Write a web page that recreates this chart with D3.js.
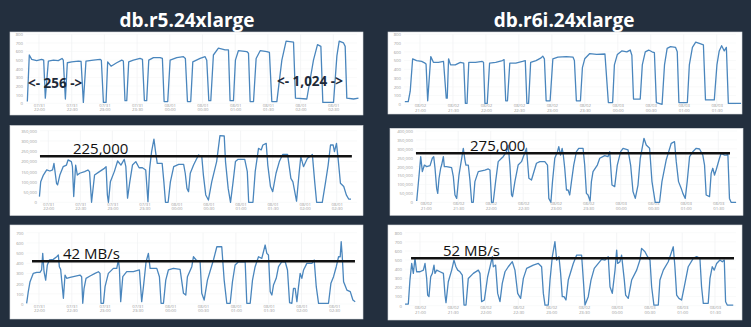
<!DOCTYPE html>
<html><head><meta charset="utf-8">
<script src="https://cdn.jsdelivr.net/npm/d3@7"></script>
<style>html,body{margin:0;padding:0;background:#232f3e;overflow:hidden}svg{display:block}</style>
</head><body><svg id="c" width="751" height="327"></svg>
<script>
// ---------- DATA (minutes after first x tick, value) ----------
const titles = ["db.r5.24xlarge", "db.r6i.24xlarge"];
const leftStart = new Date(2023, 6, 31, 22, 0);
const rightStart = new Date(2023, 7, 2, 21, 0);

const ticks800 = [0,100,200,300,400,500,600,700,800];
const ticks700 = [0,100,200,300,400,500,600,700];
const ticks350k = [0,50000,100000,150000,200000,250000,300000,350000];
const ticks400k = [0,50000,100000,150000,200000,250000,300000,350000,400000];

const r5Top = [[-10.7,20],[-8.9,560],[-6.7,510],[-2.1,495],[2.4,510],[4.3,500],[5.8,60],[8.6,490],[13.2,500],[17.7,495],[21.1,520],[22.3,500],[24.2,50],[26.0,470],[30.0,480],[36.1,490],[38.6,485],[40.7,10],[43.1,490],[49.9,500],[56.0,510],[57.2,500],[59.1,10],[61.5,10],[63.0,480],[66.1,430],[71.3,470],[75.9,500],[77.4,490],[78.9,30],[80.5,30],[82.3,480],[86.6,500],[92.7,520],[94.9,510],[96.7,30],[98.8,30],[100.7,500],[105.0,530],[111.1,530],[113.2,520],[114.8,20],[118.1,20],[120.3,500],[126.4,530],[132.5,540],[134.3,520],[136.2,20],[139.2,20],[141.1,480],[147.8,520],[152.4,540],[153.9,500],[155.8,30],[157.6,30],[160.0,560],[164.6,640],[170.7,620],[173.8,620],[175.3,30],[178.4,30],[180.2,500],[182.9,610],[190.6,600],[192.2,580],[193.7,20],[196.8,20],[199.2,520],[202.9,610],[209.0,600],[211.4,590],[213.6,20],[218.2,20],[222.8,500],[226.7,720],[233.5,710],[235.3,60],[245.7,50],[251.8,500],[255.5,680],[258.6,660],[260.4,10],[270.2,10],[273.3,550],[275.4,720],[279.4,700],[280.9,660],[282.4,60],[288.6,50],[293.1,60]];

const r6iTop = [[-13.8,30],[-10.7,30],[-8.9,150],[-6.7,520],[-3.1,500],[1.5,490],[4.6,470],[5.5,460],[7.0,40],[9.8,545],[12.2,480],[16.8,480],[21.4,490],[23.9,70],[24.8,70],[26.0,520],[27.8,450],[32.1,450],[36.7,480],[39.8,470],[41.3,10],[42.8,10],[44.4,480],[50.5,480],[56.6,490],[57.8,480],[59.1,10],[61.2,10],[63.3,470],[68.9,480],[75.0,500],[76.5,510],[78.0,40],[79.6,40],[81.7,470],[87.2,470],[93.3,490],[95.8,500],[97.3,10],[98.8,10],[100.7,480],[105.6,500],[110.2,530],[111.7,550],[113.2,520],[114.8,40],[118.4,40],[120.9,520],[125.5,540],[133.1,545],[139.2,540],[140.5,500],[142.3,40],[146.0,40],[147.8,420],[149.9,520],[154.5,580],[160.7,570],[168.3,575],[171.4,20],[175.3,20],[176.9,450],[179.6,570],[183.6,610],[188.2,600],[191.3,620],[192.8,560],[194.3,60],[200.4,60],[202.3,450],[205.0,600],[208.1,620],[211.1,600],[213.3,590],[215.1,20],[220.3,0],[222.5,450],[224.9,640],[228.0,660],[232.6,650],[234.1,600],[235.6,20],[243.3,20],[245.1,450],[247.9,650],[250.9,710],[255.5,690],[257.9,680],[259.8,50],[267.8,50],[270.2,450],[272.3,610],[274.5,670],[276.9,610],[278.8,650],[280.6,10],[292.2,10]];

const r5Mid = [[-8.3,28000],[-7.1,101000],[-4.6,133000],[-1.5,158000],[1.5,153000],[4.0,158000],[5.3,190000],[7.7,93000],[8.7,85000],[10.8,133000],[13.9,174000],[17.0,182000],[18.5,207000],[21.6,199000],[22.6,174000],[23.8,28000],[25.6,182000],[27.2,133000],[29.4,142000],[34.0,150000],[37.1,158000],[38.6,150000],[40.5,0],[43.3,133000],[47.9,150000],[52.5,166000],[54.1,174000],[55.3,36000],[56.3,0],[58.1,100000],[61.8,150000],[64.9,202000],[68.0,182000],[71.1,210000],[72.6,174000],[74.2,20000],[76.3,100000],[78.8,182000],[81.9,199000],[85.0,169000],[88.1,169000],[91.2,158000],[93.3,3000],[94.9,166000],[96.7,248000],[98.9,309000],[100.4,248000],[102.0,190000],[106.6,190000],[108.2,100000],[109.7,0],[112.2,0],[114.3,100000],[117.4,174000],[122.1,185000],[126.7,185000],[128.2,142000],[129.8,68000],[131.3,52000],[132.9,142000],[136.0,182000],[140.6,231000],[143.7,223000],[145.2,133000],[147.4,36000],[149.9,11000],[153.0,100000],[157.6,199000],[160.7,326000],[164.7,324000],[165.9,199000],[168.4,68000],[170.6,0],[173.0,100000],[175.2,199000],[177.7,210000],[183.9,210000],[186.3,150000],[187.6,0],[191.6,0],[193.7,150000],[196.8,264000],[199.3,256000],[200.9,280000],[204.0,288000],[205.5,182000],[208.0,77000],[210.1,52000],[213.2,142000],[216.3,199000],[219.4,234000],[224.0,234000],[227.1,117000],[229.0,100000],[232.4,6000],[234.8,142000],[236.4,223000],[238.9,174000],[242.6,215000],[245.7,226000],[247.2,234000],[249.4,100000],[251.2,0],[256.5,0],[259.6,100000],[262.0,182000],[264.2,280000],[266.7,280000],[267.9,248000],[269.8,288000],[271.3,215000],[273.5,93000],[276.6,77000],[279.0,36000],[281.2,16000],[283.4,16000]];

const r6iMid = [[-8.3,7000],[-6.1,153000],[-4.6,256000],[-3.1,172000],[-1.2,209000],[0.9,200000],[4.0,206000],[6.1,247000],[7.4,256000],[8.6,191000],[10.1,78000],[11.1,50000],[12.3,135000],[13.8,191000],[14.7,209000],[16.3,256000],[17.2,200000],[19.3,200000],[23.9,194000],[25.5,144000],[27.0,41000],[28.6,22000],[30.7,153000],[33.2,247000],[34.7,303000],[36.2,237000],[37.1,209000],[39.3,209000],[40.8,125000],[42.4,0],[43.9,0],[45.4,116000],[48.5,172000],[54.6,181000],[57.7,187000],[59.3,181000],[60.8,0],[62.3,0],[64.5,116000],[66.9,228000],[70.0,247000],[71.5,256000],[74.6,284000],[76.1,321000],[77.7,209000],[79.2,41000],[80.1,32000],[82.3,116000],[85.3,209000],[88.4,228000],[93.0,303000],[95.2,135000],[97.6,125000],[102.2,219000],[105.3,228000],[109.9,228000],[112.4,209000],[113.6,22000],[115.5,0],[117.0,116000],[119.1,247000],[121.6,284000],[122.8,312000],[124.4,265000],[125.9,303000],[126.8,275000],[128.3,191000],[129.9,69000],[131.4,69000],[132.9,41000],[134.5,116000],[136.6,209000],[139.1,284000],[141.2,303000],[145.2,303000],[146.7,209000],[148.3,50000],[149.8,41000],[151.7,7000],[152.9,116000],[154.4,172000],[158.4,209000],[160.6,247000],[165.2,262000],[168.2,256000],[169.8,284000],[171.9,97000],[174.4,88000],[176.8,209000],[179.9,284000],[182.1,303000],[186.7,294000],[189.1,209000],[191.3,60000],[193.4,22000],[195.9,97000],[198.0,247000],[201.4,359000],[203.5,321000],[206.6,303000],[208.8,116000],[211.8,0],[215.8,0],[218.0,116000],[221.9,237000],[226.6,331000],[229.6,340000],[231.2,228000],[233.3,116000],[235.8,78000],[237.3,50000],[239.5,22000],[241.3,116000],[243.5,256000],[246.5,284000],[249.6,303000],[252.7,299000],[255.7,265000],[257.3,209000],[258.8,41000],[261.9,32000],[263.4,162000],[264.9,191000],[266.5,153000],[268.0,181000],[271.1,247000],[272.6,275000],[275.7,265000],[277.8,265000],[278.8,275000],[280.3,22000],[281.8,0],[286.4,0]];

const r5Bot = [[-11.3,7],[-9.8,121],[-8.2,219],[-5.2,301],[-2.1,311],[0.9,311],[2.4,334],[3.4,497],[4.6,317],[6.1,235],[7.6,383],[9.5,432],[13.1,438],[16.2,464],[17.7,481],[18.6,366],[19.8,340],[21.0,203],[22.3,56],[23.8,284],[25.3,252],[28.4,262],[37.5,284],[39.0,268],[40.0,7],[41.2,154],[43.0,252],[46.7,275],[51.2,301],[54.3,317],[55.8,301],[56.7,7],[58.9,7],[60.4,170],[63.4,301],[68.0,350],[71.1,350],[72.6,432],[73.5,350],[74.7,23],[76.6,268],[80.2,317],[86.3,317],[91.8,334],[93.9,23],[95.5,170],[97.9,415],[100.0,497],[101.6,350],[107.7,350],[110.1,268],[111.6,7],[113.8,7],[115.9,235],[118.3,334],[122.9,350],[129.0,340],[132.1,105],[134.2,88],[135.7,268],[139.7,366],[141.2,464],[143.7,432],[147.3,415],[148.8,105],[151.0,39],[154.0,235],[159.5,432],[162.6,562],[167.1,562],[169.3,235],[171.7,7],[174.8,7],[176.9,219],[179.3,383],[182.4,415],[188.5,415],[190.0,7],[193.1,7],[195.2,235],[197.6,366],[200.7,464],[203.7,448],[206.8,579],[208.3,497],[209.8,481],[211.4,121],[212.9,88],[214.4,186],[216.9,252],[219.0,366],[222.0,415],[225.1,415],[227.2,334],[229.1,13],[231.2,7],[232.7,154],[234.2,154],[235.8,23],[237.3,170],[238.8,301],[240.3,252],[241.9,334],[244.9,399],[249.5,399],[251.6,432],[253.5,170],[255.6,7],[264.7,7],[266.9,203],[269.3,268],[271.8,366],[273.9,464],[275.4,464],[276.3,611],[277.2,481],[278.5,219],[281.5,137],[284.6,121],[287.0,39],[289.1,23]];

const r6iBot = [[-13.7,18],[-10.7,18],[-9.2,281],[-7.6,463],[-6.1,354],[-4.6,518],[-3.1,372],[0,372],[3.1,390],[4.6,463],[6.1,299],[7.0,117],[8.2,99],[9.8,317],[11.3,354],[12.8,445],[13.7,354],[15.3,390],[18.3,372],[21.4,354],[22.9,117],[23.8,33],[25.9,263],[29.0,390],[31.1,500],[32.9,427],[34.5,390],[36.6,372],[38.7,336],[40.3,7],[42.1,7],[44.2,299],[48.8,354],[53.4,390],[54.9,354],[56.4,44],[58.9,62],[61.9,317],[64.1,427],[66.2,537],[67.1,427],[69.2,445],[71.1,135],[73.2,44],[75.3,245],[77.8,372],[80.8,427],[84.5,482],[86.9,390],[89.4,135],[92.1,80],[94.6,299],[97.6,409],[103.7,445],[108.3,463],[111.3,427],[112.9,135],[114.4,7],[117.4,7],[119.0,281],[121.1,537],[123.5,701],[125.1,500],[127.2,537],[128.7,354],[130.2,99],[131.8,99],[133.6,62],[135.7,281],[140.3,463],[143.4,555],[147.9,555],[149.5,281],[151.0,7],[154.0,99],[156.5,281],[159.5,409],[163.2,463],[166.2,507],[169.3,500],[172.3,537],[173.9,208],[176.0,135],[178.5,390],[180.0,610],[180.9,463],[183.0,482],[184.5,555],[187.0,281],[188.2,117],[190.6,80],[193.7,281],[198.3,390],[201.3,500],[202.8,628],[205.9,591],[208.3,537],[210.5,500],[212.0,208],[214.1,7],[218.1,7],[219.6,281],[222.7,390],[227.2,482],[230.3,591],[231.8,646],[233.3,427],[234.9,117],[237.0,80],[239.4,62],[241.9,208],[245.5,427],[250.1,518],[253.2,537],[256.2,518],[257.7,208],[259.3,26],[263.8,26],[265.4,299],[267.5,427],[269.3,390],[271.5,463],[274.5,500],[276.7,482],[278.5,500],[279.7,44],[281.2,7],[286.7,7]];

// reference lines: [startMinute, endMinute, value], label
const refMidLeft = [-7.8, 284.2, 225000];
const refMidRight = [-9.0, 280.8, 275000];
const refBotLeft = [-6.4, 288.9, 420];
const refBotRight = [-8.2, 287.4, 520];
const refLabels = ["225,000", "275,000", "42 MB/s", "52 MB/s"];
const rangeLabels = ["<- 256 ->", "<- 1,024 ->"];

// ---------- DRAW ----------
const BG = "#232f3e", LINE = "#4a86bd";
const svg = d3.select("#c");
svg.append("rect").attr("width", 751).attr("height", 327).attr("fill", BG);

svg.append("text").attr("x", 187).attr("y", 27).attr("text-anchor", "middle")
  .attr("font-family", "Open Sans, sans-serif").attr("font-weight", 700).attr("font-size", 19)
  .attr("fill", "#fff").text(titles[0]);
svg.append("text").attr("x", 564).attr("y", 27).attr("text-anchor", "middle")
  .attr("font-family", "Open Sans, sans-serif").attr("font-weight", 700).attr("font-size", 19)
  .attr("fill", "#fff").text(titles[1]);

const panels = [
  {box:[10,32,353,83], start:leftStart, xr:[39,333.3], yr:[103.3,34.3], ticks:ticks800, data:r5Top, ylx:23, xly:106.7},
  {box:[388,32,354,82], start:rightStart, xr:[420,716.7], yr:[104.3,34.3], ticks:ticks800, data:r6iTop, ylx:401, xly:107},
  {box:[10,125.5,353,90], start:leftStart, xr:[48.3,336.7], yr:[202.3,130.7], ticks:ticks350k, data:r5Mid, ylx:37, xly:205.5, ref:refMidLeft, refLabel:refLabels[0], refTextT:23.1},
  {box:[390,128.3,353,87], start:rightStart, xr:[425.7,718.3], yr:[202.3,131], ticks:ticks400k, data:r6iMid, ylx:413, xly:205.3, ref:refMidRight, refLabel:refLabels[1], refTextT:40.9},
  {box:[10,225,353,94], start:leftStart, xr:[39,334.3], yr:[304,232.7], ticks:ticks700, data:r5Bot, ylx:23.5, xly:307.5, ref:refBotLeft, refLabel:refLabels[2], refTextT:21.9},
  {box:[388,225,354,95], start:rightStart, xr:[420,715], yr:[305.7,232.7], ticks:ticks800, data:r6iBot, ylx:402, xly:309, ref:refBotRight, refLabel:refLabels[3], refTextT:21.1}
];

const fmtDate = d3.timeFormat("%m/%d"), fmtTime = d3.timeFormat("%H:%M");

panels.forEach(p => {
  const g = svg.append("g");
  g.append("rect").attr("x", p.box[0]).attr("y", p.box[1]).attr("width", p.box[2]).attr("height", p.box[3])
    .attr("fill", "#fff").attr("stroke", "#d6d9dd").attr("stroke-width", 0.6);
  const toDate = m => new Date(p.start.getTime() + m * 60000);
  const x = d3.scaleTime().domain([p.start, toDate(270)]).range(p.xr);
  const yMax = p.ticks[p.ticks.length - 1];
  const y = d3.scaleLinear().domain([0, yMax]).range(p.yr);
  const xt = x.ticks(d3.timeMinute.every(30));

  // grid
  g.selectAll(null).data(xt).join("line")
    .attr("x1", d => x(d)).attr("x2", d => x(d)).attr("y1", p.yr[1]).attr("y2", p.yr[0])
    .attr("stroke", "#eceef0").attr("stroke-width", 0.6);
  g.selectAll(null).data(p.ticks).join("line")
    .attr("x1", p.ylx + 3).attr("x2", p.box[0] + p.box[2] - 6).attr("y1", d => y(d)).attr("y2", d => y(d))
    .attr("stroke", "#f3f4f5").attr("stroke-width", 0.5);

  // y axis
  const yAxis = d3.axisLeft(y).tickValues(p.ticks).tickSize(0).tickPadding(0).tickFormat(d3.format(","));
  const ya = g.append("g").attr("transform", `translate(${p.ylx},0)`).call(yAxis);
  ya.select(".domain").remove();
  ya.selectAll("text").attr("font-size", 4.3).attr("fill", "#9a9a9a").attr("font-family", "Open Sans, sans-serif");

  // x axis (two-line labels)
  const xAxis = d3.axisBottom(x).tickValues(xt).tickSize(0).tickPadding(0).tickFormat(fmtDate);
  const xa = g.append("g").attr("transform", `translate(0,${p.xly - 3})`).call(xAxis);
  xa.select(".domain").remove();
  xa.selectAll("text").attr("font-size", 4.3).attr("fill", "#9a9a9a").attr("font-family", "Open Sans, sans-serif")
    .attr("dy", 0).attr("y", 3)
    .each(function(d) {
      d3.select(this).append("tspan").attr("x", 0).attr("dy", 4.6).text(fmtTime(d));
    });

  // series
  const line = d3.line().x(d => x(toDate(d[0]))).y(d => y(d[1]));
  g.append("path").datum(p.data).attr("d", line).attr("fill", "none")
    .attr("stroke", LINE).attr("stroke-width", 1.3).attr("stroke-linejoin", "round");

  // reference line
  if (p.ref) {
    g.append("line").attr("x1", x(toDate(p.ref[0]))).attr("x2", x(toDate(p.ref[1])))
      .attr("y1", y(p.ref[2])).attr("y2", y(p.ref[2]))
      .attr("stroke", "#111").attr("stroke-width", 2.6);
    g.append("text").attr("x", x(toDate(p.refTextT))).attr("y", y(p.ref[2]) - 2.4)
      .attr("font-family", "Open Sans, sans-serif").attr("font-size", 15).attr("fill", "#111")
      .text(p.refLabel);
  }
});

// range annotations on top-left panel
svg.append("text").attr("x", 28).attr("y", 88).attr("font-family", "Open Sans, sans-serif")
  .attr("font-weight", 700).attr("font-size", 13.5).attr("fill", "#1e2a38").text(rangeLabels[0]);
svg.append("text").attr("x", 277).attr("y", 86).attr("font-family", "Open Sans, sans-serif")
  .attr("font-weight", 700).attr("font-size", 13.5).attr("fill", "#1e2a38").text(rangeLabels[1]);
</script></body></html>
